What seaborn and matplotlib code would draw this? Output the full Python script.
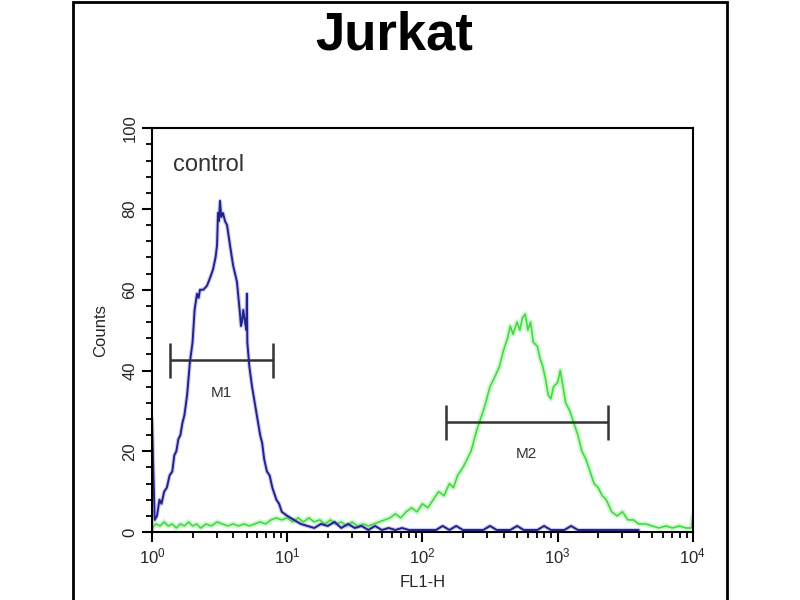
import numpy as np
import pandas as pd
import matplotlib
matplotlib.use('Agg')
import matplotlib.pyplot as plt
import matplotlib.patches as patches
from matplotlib.ticker import LogLocator, MultipleLocator
import seaborn as sns

# DATA (x read as decades of FL1-H, y as counts)
control_decade = [0.000, 0.000, 0.010, 0.020, 0.037, 0.055, 0.070, 0.090, 0.110, 0.130,
                  0.150, 0.165, 0.180, 0.195, 0.210, 0.225, 0.240, 0.260, 0.280, 0.300,
                  0.315, 0.333, 0.345, 0.355, 0.380, 0.407, 0.430, 0.451, 0.470, 0.481,
                  0.488, 0.495, 0.503, 0.512, 0.525, 0.540, 0.555, 0.577, 0.600, 0.628,
                  0.651, 0.658, 0.665, 0.675, 0.688, 0.698, 0.702, 0.705, 0.720, 0.740,
                  0.770, 0.785, 0.800, 0.815, 0.830, 0.850, 0.870, 0.890, 0.920, 0.940,
                  0.960, 1.000, 1.050, 1.100, 1.150, 1.200, 1.250, 1.300, 1.350, 1.400,
                  1.450, 1.500, 1.550, 1.600, 1.650, 1.700, 1.750, 1.800, 1.850, 1.900,
                  1.950, 2.000, 2.100, 2.150, 2.200, 2.250, 2.300, 2.450, 2.500, 2.550,
                  2.650, 2.700, 2.750, 2.850, 2.900, 2.950, 3.050, 3.100, 3.150, 3.500,
                  3.600]
control_counts = [0, 28, 15, 3, 4, 8, 7, 10, 11, 14,
                  15, 19, 20, 23, 24, 27, 29, 34, 42, 47,
                  55, 59, 58, 60, 60, 61, 63, 65, 68, 71,
                  79, 77, 82, 78, 79, 77, 76, 71, 66, 62,
                  54, 51, 52, 55, 52, 50, 59, 47, 41, 36,
                  30, 27, 24, 22, 18, 15, 14, 11, 8, 7,
                  5, 4, 3, 2, 1.5, 1, 2, 1.5, 2.5, 1,
                  2, 1, 1.5, 0.5, 1.5, 0.5, 1, 0.5, 1, 0.5,
                  0.5, 0.5, 0.5, 1.5, 0.5, 1.5, 0.5, 0.5, 1.5, 0.5,
                  0.5, 1.5, 0.5, 0.5, 1.5, 0.5, 0.5, 1.5, 0.5, 0.5,
                  0.5]

sample_decade = [0.00, 0.03, 0.06, 0.09, 0.12, 0.15, 0.18, 0.21, 0.24, 0.27,
                 0.30, 0.33, 0.36, 0.40, 0.44, 0.48, 0.52, 0.56, 0.60, 0.64,
                 0.68, 0.72, 0.76, 0.80, 0.84, 0.88, 0.92, 0.96, 1.00, 1.04,
                 1.08, 1.12, 1.16, 1.20, 1.24, 1.28, 1.32, 1.36, 1.40, 1.44,
                 1.48, 1.52, 1.56, 1.60, 1.64, 1.68, 1.72, 1.76, 1.80, 1.84,
                 1.88, 1.92, 1.96, 2.00, 2.04, 2.08, 2.12, 2.16, 2.20, 2.23,
                 2.26, 2.30, 2.33, 2.36, 2.40, 2.43, 2.46, 2.50, 2.53, 2.57,
                 2.60, 2.63, 2.65, 2.67, 2.70, 2.72, 2.74, 2.76, 2.78, 2.80,
                 2.82, 2.85, 2.87, 2.89, 2.91, 2.93, 2.95, 2.97, 3.00, 3.02,
                 3.04, 3.06, 3.09, 3.12, 3.15, 3.18, 3.21, 3.24, 3.27, 3.30,
                 3.33, 3.36, 3.40, 3.44, 3.48, 3.52, 3.56, 3.60, 3.65, 3.70,
                 3.75, 3.80, 3.85, 3.90, 3.95, 3.99, 4.00]
sample_counts = [1, 2, 1.5, 2.5, 1.5, 2, 1, 2, 1.5, 2.5,
                 1.5, 2, 1, 2, 1.5, 2.5, 2, 1.5, 2, 1.5,
                 2, 1.5, 2, 2.5, 2, 3, 3.5, 3, 3.5, 2.5,
                 3.5, 2.5, 3.5, 2.5, 3, 2, 3, 2, 2.5, 1.5,
                 2.5, 1.5, 2, 1.5, 2, 2.5, 3, 3.5, 4.5, 3.5,
                 5, 6, 5, 7, 6, 8, 10, 9, 12, 11,
                 14, 16, 18, 20, 25, 28, 31, 36, 38, 41,
                 45, 48, 51, 49, 52, 50, 53, 54, 50, 52,
                 47, 46, 43, 41, 38, 34, 33, 36, 37, 40,
                 36, 32, 30, 27, 24, 20, 18, 15, 12, 11,
                 9, 8, 5, 4, 5, 3, 3, 2, 2, 1.5,
                 1, 1.5, 1, 1.5, 1, 1, 4]

# Marker gates
gate_names = ['M1', 'M2']
gate_lo = [1.36, 149]
gate_hi = [7.85, 2355]
gate_y = [42.5, 27.2]

x_ticks = [1, 10, 100, 1000, 10000]
y_ticks = [0, 20, 40, 60, 80, 100]

control = pd.DataFrame({'FL1-H': np.power(10.0, control_decade), 'Counts': control_counts})
sample = pd.DataFrame({'FL1-H': np.power(10.0, sample_decade), 'Counts': sample_counts})

sns.set_style('ticks')
plt.rcParams['font.family'] = ['Liberation Sans', 'DejaVu Sans']
plt.rcParams['mathtext.fontset'] = 'custom'
plt.rcParams['mathtext.rm'] = 'Liberation Sans'

fig = plt.figure(figsize=(8, 6), dpi=100)
ax = fig.add_axes([0.19, 0.1133, 0.676, 0.673])

# soft halo under each trace, then the trace itself
sns.lineplot(data=sample, x='FL1-H', y='Counts', sort=False, estimator=None,
             color='#a4f2a4', linewidth=4, alpha=0.5, ax=ax)
sns.lineplot(data=sample, x='FL1-H', y='Counts', sort=False, estimator=None,
             color='#44d844', linewidth=1.2, ax=ax)
sns.lineplot(data=control, x='FL1-H', y='Counts', sort=False, estimator=None,
             color='#8c8ce0', linewidth=3.0, alpha=0.45, ax=ax)
sns.lineplot(data=control, x='FL1-H', y='Counts', sort=False, estimator=None,
             color='#22228c', linewidth=1.4, ax=ax)

# gates
for name, lo, hi, gy in zip(gate_names, gate_lo, gate_hi, gate_y):
    ax.hlines(gy, lo, hi, color='#333333', linewidth=1.8)
    ax.vlines([lo, hi], gy - 4.3, gy + 4.3, color='#333333', linewidth=1.8)
    ax.text(np.sqrt(lo * hi), gy - 8, name, ha='center', va='center',
            fontsize=11, color='#333333')

ax.text(1.44, 91, 'control', fontsize=17, color='#333333', va='center', ha='left')

ax.set_xscale('log')
ax.set_xlim(1, 10000)
ax.set_ylim(0, 100)
ax.set_xticks(x_ticks)
ax.set_yticks(y_ticks)
ax.xaxis.set_minor_locator(LogLocator(base=10, subs=np.arange(2, 10)))
ax.yaxis.set_minor_locator(MultipleLocator(4))
ax.tick_params(axis='both', which='major', direction='out', length=7, width=1.5,
               labelsize=12, color='black')
ax.tick_params(axis='both', which='minor', direction='out', length=4, width=1.3,
               color='black')
ax.tick_params(axis='x', which='minor', labelbottom=False)
ax.tick_params(axis='y', labelrotation=90)
for lab in ax.get_yticklabels():
    lab.set_va('center')

ax.set_xlabel('FL1-H', fontsize=12, labelpad=6)
ax.set_ylabel('Counts', fontsize=12, labelpad=10)

for side in ['top', 'right', 'left', 'bottom']:
    ax.spines[side].set_visible(True)
    ax.spines[side].set_linewidth(1.5)
    ax.spines[side].set_color('black')

fig.text(0.4925, 0.94, 'Jurkat', fontsize=38, fontweight='bold', color='black',
         ha='center', va='center')

# outer frame
fig.patches.append(patches.Rectangle((73 / 800, -0.05), 654 / 800, 1.047,
                                     transform=fig.transFigure, fill=False,
                                     edgecolor='black', linewidth=2))

fig.savefig('out.png', dpi=100)
